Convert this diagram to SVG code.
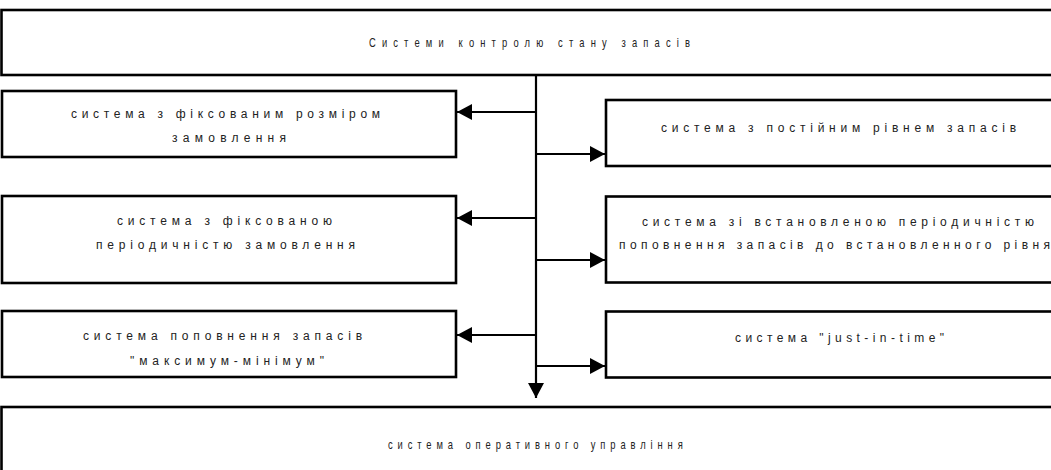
<svg xmlns="http://www.w3.org/2000/svg" width="1051" height="470" viewBox="0 0 1051 470">
<style>
.box{fill:#fff;stroke:#000;stroke-width:2.6}
.ln{stroke:#000;stroke-width:2.2;fill:none}
.t{font-family:"Liberation Sans",Arial,sans-serif;font-size:12px;fill:#222}
.tn{font-family:"Liberation Sans",Arial,sans-serif;font-size:12.5px;fill:#222}
</style>
<defs>
<marker id="ah" markerUnits="userSpaceOnUse" viewBox="0 0 15 16" refX="15" refY="8" markerWidth="15" markerHeight="16" orient="auto">
<path d="M0,0 L15,8 L0,16 Z" fill="#000"/>
</marker>
</defs>
<rect width="1051" height="470" fill="#fff"/>
<g id="connectors">
<line class="ln" x1="536" y1="75" x2="536" y2="398" marker-end="url(#ah)"/>
<line class="ln" x1="536" y1="112" x2="457" y2="112" marker-end="url(#ah)"/>
<line class="ln" x1="536" y1="154" x2="605" y2="154" marker-end="url(#ah)"/>
<line class="ln" x1="536" y1="218" x2="457" y2="218" marker-end="url(#ah)"/>
<line class="ln" x1="536" y1="260" x2="605" y2="260" marker-end="url(#ah)"/>
<line class="ln" x1="536" y1="335" x2="457" y2="335" marker-end="url(#ah)"/>
<line class="ln" x1="536" y1="366" x2="605" y2="366" marker-end="url(#ah)"/>
</g>
<g id="top">
<rect class="box" x="1.5" y="10" width="1070" height="65"/>
<text class="tn" transform="translate(369,47) scale(0.75,1)" textLength="428" lengthAdjust="spacing">Системи контролю стану запасів</text>
</g>
<g id="left1">
<rect class="box" x="2" y="91" width="454" height="66"/>
<text class="t" x="71" y="118" textLength="309" lengthAdjust="spacing">система з фіксованим розміром</text>
<text class="t" x="172" y="142" textLength="114" lengthAdjust="spacing">замовлення</text>
</g>
<g id="right1">
<rect class="box" x="606" y="100" width="470" height="66"/>
<text class="t" x="661" y="132" textLength="355" lengthAdjust="spacing">система з постійним рівнем запасів</text>
</g>
<g id="left2">
<rect class="box" x="2" y="196" width="454" height="87"/>
<text class="t" x="117" y="225" textLength="215" lengthAdjust="spacing">система з фіксованою</text>
<text class="t" x="96" y="249" textLength="259" lengthAdjust="spacing">періодичністю замовлення</text>
</g>
<g id="right2">
<rect class="box" x="606" y="196.5" width="470" height="86"/>
<text class="t" x="642" y="225.5" textLength="392" lengthAdjust="spacing">система зі встановленою періодичністю</text>
<text class="t" x="619" y="249" textLength="431" lengthAdjust="spacing">поповнення запасів до встановленного рівня</text>
</g>
<g id="left3">
<rect class="box" x="2" y="311" width="454" height="66"/>
<text class="t" x="83" y="339.5" textLength="279" lengthAdjust="spacing">система поповнення запасів</text>
<text class="t" x="130" y="364.5" textLength="194" lengthAdjust="spacing">"максимум-мінімум"</text>
</g>
<g id="right3">
<rect class="box" x="606" y="311.5" width="470" height="66"/>
<text class="t" x="735" y="342" textLength="209" lengthAdjust="spacing">система "just-in-time"</text>
</g>
<g id="bottom">
<rect class="box" x="1.5" y="407" width="1070" height="80"/>
<text class="tn" transform="translate(388,449) scale(0.75,1)" textLength="393" lengthAdjust="spacing">система оперативного управління</text>
</g>
</svg>
